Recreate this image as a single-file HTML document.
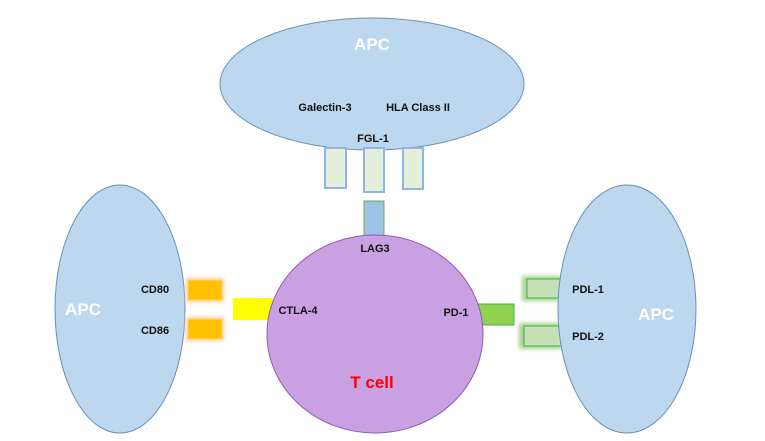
<!DOCTYPE html>
<html><head><style>body{margin:0;background:#fff}</style></head><body>
<svg width="765" height="436" xmlns="http://www.w3.org/2000/svg" font-family="Liberation Sans, sans-serif" font-weight="bold">
<defs>
<filter id="g" x="-50%" y="-50%" width="200%" height="200%"><feGaussianBlur stdDeviation="2"/></filter>
</defs>
<!-- top APC -->
<ellipse cx="372" cy="84" rx="152" ry="66" fill="#bdd7ee" stroke="#6a8fb8" stroke-width="1"/>
<text x="372" y="50" font-size="17" fill="#fff" text-anchor="middle">APC</text>
<text x="325" y="111" font-size="11" fill="#111" text-anchor="middle">Galectin-3</text>
<text x="418" y="111" font-size="11" fill="#111" text-anchor="middle">HLA Class II</text>
<text x="373" y="142" font-size="11" fill="#111" text-anchor="middle">FGL-1</text>
<!-- hanging rects -->
<g fill="#e2efda" stroke="#8fb4e8" stroke-width="2">
<rect x="325" y="148" width="21" height="40"/>
<rect x="364" y="148" width="20" height="44"/>
<rect x="403" y="148" width="20" height="41"/>
</g>
<rect x="364" y="201" width="20" height="35" fill="#9dc3e6" stroke="#70ad47" stroke-width="1"/>
<!-- left APC -->
<ellipse cx="120" cy="309" rx="65" ry="124" fill="#bdd7ee" stroke="#6a8fb8" stroke-width="1"/>
<text x="83" y="315" font-size="17" fill="#fff" text-anchor="middle">APC</text>
<text x="155" y="293" font-size="11" fill="#111" text-anchor="middle">CD80</text>
<text x="155" y="334" font-size="11" fill="#111" text-anchor="middle">CD86</text>
<rect x="186" y="278" width="38" height="24" fill="#f8cbad" filter="url(#g)"/>
<rect x="186" y="317" width="38" height="24" fill="#f8cbad" filter="url(#g)"/>
<rect x="188" y="280" width="34" height="20" fill="#ffc000" stroke="#ffd966"/>
<rect x="188" y="319" width="34" height="20" fill="#ffc000" stroke="#ffd966"/>
<!-- right APC -->
<rect x="522" y="276" width="40" height="25" fill="#a9d18e" filter="url(#g)"/>
<rect x="519" y="323" width="43" height="26" fill="#a9d18e" filter="url(#g)"/>
<rect x="527" y="279" width="34" height="19" fill="#c5e0b4" stroke="#3cb44b"/>
<rect x="524" y="326" width="37" height="20" fill="#c5e0b4" stroke="#3cb44b"/>
<ellipse cx="627" cy="309" rx="69" ry="124" fill="#bdd7ee" stroke="#6a8fb8" stroke-width="1"/>
<text x="588" y="293" font-size="11" fill="#111" text-anchor="middle">PDL-1</text>
<text x="588" y="340" font-size="11" fill="#111" text-anchor="middle">PDL-2</text>
<text x="656" y="320" font-size="17" fill="#fff" text-anchor="middle">APC</text>
<!-- connectors -->
<rect x="233" y="298" width="40" height="22" fill="#ffff00"/>
<rect x="476" y="304" width="38" height="21" fill="#92d050" stroke="#3cb44b"/>
<!-- T cell -->
<ellipse cx="375" cy="334" rx="108" ry="99" fill="#c9a0e2" stroke="#8e5bb5" stroke-width="1"/>
<text x="375" y="252" font-size="11" fill="#111" text-anchor="middle">LAG3</text>
<text x="298" y="314" font-size="11" fill="#111" text-anchor="middle">CTLA-4</text>
<text x="456" y="316" font-size="11" fill="#111" text-anchor="middle">PD-1</text>
<text x="372" y="388" font-size="17" fill="#ff0000" text-anchor="middle">T cell</text>
</svg>
</body></html>
